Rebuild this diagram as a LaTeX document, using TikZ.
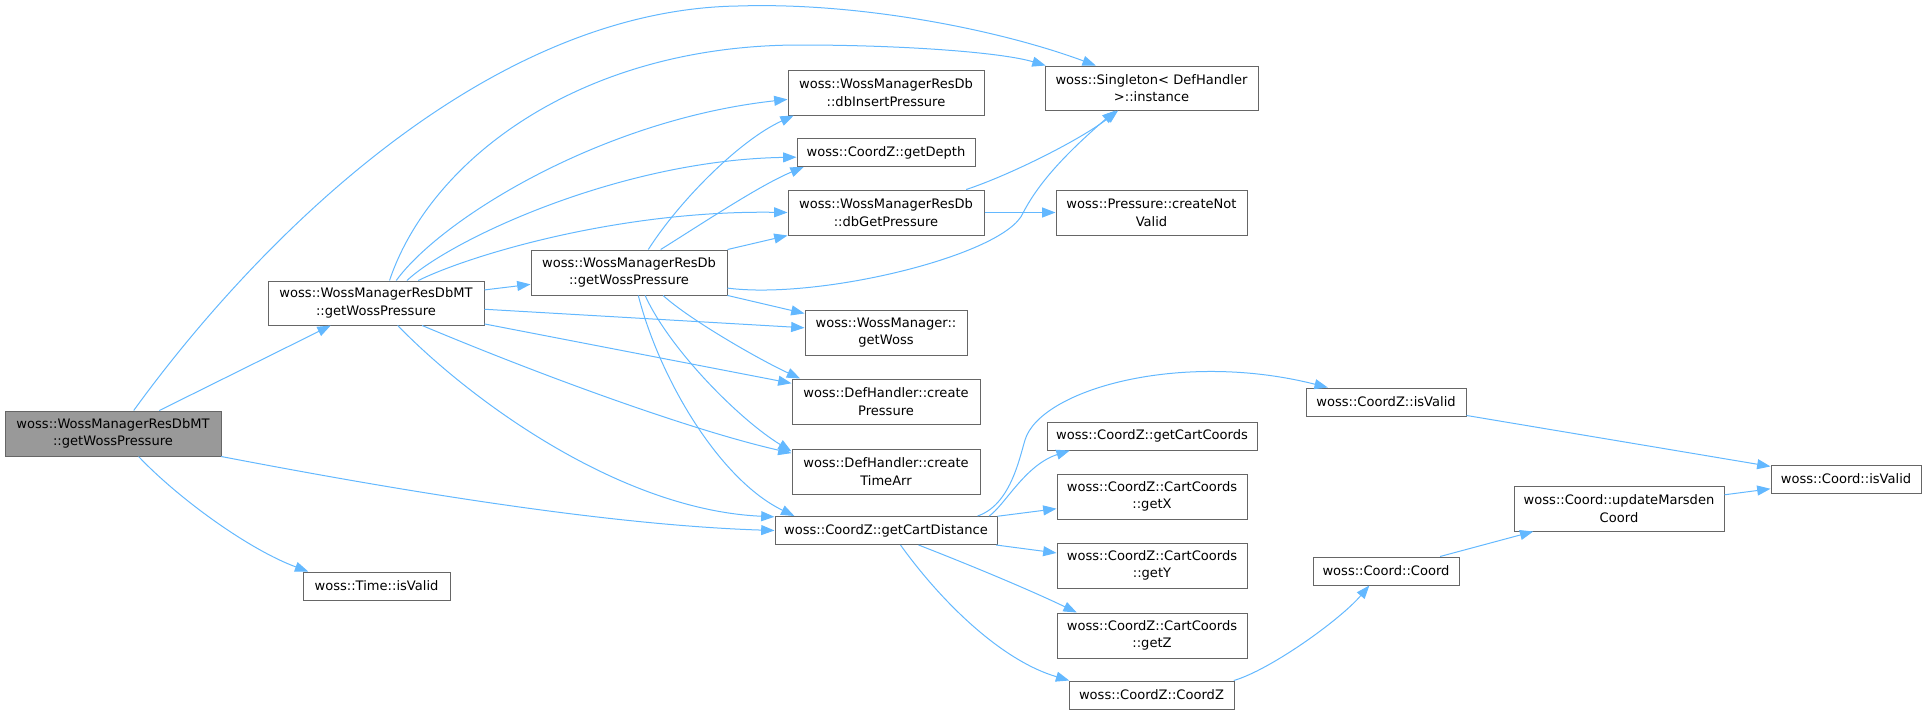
\documentclass[tikz,border=0pt]{standalone}
\usepackage{fontspec}
\newfontfamily\dxfont{DejaVu Sans}
\usetikzlibrary{arrows.meta}
\definecolor{callblue}{HTML}{63B8FF}
\definecolor{boxgray}{HTML}{666666}
\definecolor{rootgray}{HTML}{999999}

\begin{document}
\begin{tikzpicture}[
      x=0.75pt, y=-0.75pt,
      fn/.style={draw=boxgray, line width=0.75pt, fill=white, align=center,
                 inner sep=0pt, font=\dxfont\fontsize{9.8pt}{13.3pt}\selectfont},
      sz/.style 2 args={minimum width=#1*0.75pt, minimum height=#2*0.75pt},
      call/.style={-{Triangle[length=10pt, width=7.5pt]}, callblue, line width=0.75pt},
    ]
    \useasboundingbox (0,0) rectangle (1928,714);

    % Rank 0 — the function itself (grey)
    \node[fn, sz={216}{45}, fill=rootgray] (root) at (113,433.5)
      {woss::WossManagerResDbMT\\::getWossPressure};

    % Rank 1
    \node[fn, sz={216}{44}] (mt) at (376,303)
      {woss::WossManagerResDbMT\\::getWossPressure};
    \node[fn, sz={147}{28}] (tvalid) at (376.5,586) {woss::Time::isValid};

    % Rank 2
    \node[fn, sz={196}{45}] (resdb) at (629,272.5)
      {woss::WossManagerResDb\\::getWossPressure};

    % Rank 3
    \node[fn, sz={196}{45}] (dbins) at (886,92.5)
      {woss::WossManagerResDb\\::dbInsertPressure};
    \node[fn, sz={178}{28}] (depth) at (886,152.5) {woss::CoordZ::getDepth};
    \node[fn, sz={196}{45}] (dbget) at (886,212.5)
      {woss::WossManagerResDb\\::dbGetPressure};
    \node[fn, sz={162}{45}] (getwoss) at (886,332.5)
      {woss::WossManager::\\getWoss};
    \node[fn, sz={188}{45}] (crpres) at (886,401.5)
      {woss::DefHandler::create\\Pressure};
    \node[fn, sz={188}{45}] (crtime) at (886,471.5)
      {woss::DefHandler::create\\TimeArr};
    \node[fn, sz={222}{28}] (cdist) at (886,530.5) {woss::CoordZ::getCartDistance};

    % Rank 4
    \node[fn, sz={213}{44}] (singleton) at (1151.5,88)
      {woss::Singleton< DefHandler\\>::instance};
    \node[fn, sz={191}{45}] (notvalid) at (1151.5,212.5)
      {woss::Pressure::createNot\\Valid};
    \node[fn, sz={210}{28}] (ccoords) at (1152,436) {woss::CoordZ::getCartCoords};
    \node[fn, sz={190}{45}] (getx) at (1152,496.5)
      {woss::CoordZ::CartCoords\\::getX};
    \node[fn, sz={190}{45}] (gety) at (1152,565.5)
      {woss::CoordZ::CartCoords\\::getY};
    \node[fn, sz={190}{45}] (getz) at (1152,635.5)
      {woss::CoordZ::CartCoords\\::getZ};
    \node[fn, sz={165}{28}] (coordz) at (1151.5,695) {woss::CoordZ::CoordZ};

    % Rank 5 to 7
    \node[fn, sz={160}{28}] (zvalid) at (1386,402) {woss::CoordZ::isValid};
    \node[fn, sz={146}{28}] (ccoord) at (1386,571) {woss::Coord::Coord};
    \node[fn, sz={210}{45}] (marsden) at (1619,508.5)
      {woss::Coord::updateMarsden\\Coord};
    \node[fn, sz={150}{28}] (cvalid) at (1846,479) {woss::Coord::isValid};

    % Calls from the root
    \draw[call] (root) -- (mt);
    \draw[call] (root.48) .. controls (250,250) and (480,10) .. (738,6)
      .. controls (860,2) and (1000,30) .. (singleton.158);
    \draw[call] (root.-12) .. controls (380,487) and (600,525) .. (cdist.west);
    \draw[call] (root.-42) .. controls (180,500) and (250,550) .. (tvalid.168);

    % Calls from the MT wrapper
    \draw[call] (mt.59) .. controls (430,160) and (580,45) .. (800,45)
      .. controls (900,45) and (1000,52) .. (singleton.168);
    \draw[call] (mt.48) .. controls (440,220) and (600,120) .. (dbins.184);
    \draw[call] (mt.36) .. controls (450,240) and (620,160) .. (depth.183);
    \draw[call] (mt.28) .. controls (470,255) and (620,210) .. (dbget.west);
    \draw[call] (mt) -- (resdb);
    \draw[call] (mt) -- (getwoss);
    \draw[call] (mt) -- (crpres);
    \draw[call] (mt.-26) .. controls (540,375) and (690,430) .. (crtime.169);
    \draw[call] (mt.-46) .. controls (470,400) and (620,510) .. (cdist.173);

    % Calls from ResDb
    \draw[call] (resdb.50) .. controls (680,200) and (740,140) .. (dbins.194);
    \draw[call] (resdb.36) .. controls (700,225) and (760,185) .. (depth.190);
    \draw[call] (resdb) -- (dbget);
    \draw[call] (resdb.-9) .. controls (820,300) and (1005,255) .. (1023,213)
      .. controls (1040,180) and (1070,150) .. (singleton.212);
    \draw[call] (resdb) -- (getwoss);
    \draw[call] (resdb.-34) .. controls (690,320) and (760,360) .. (crpres.165);
    \draw[call] (resdb.-55) .. controls (670,350) and (740,420) .. (crtime.168);
    \draw[call] (resdb.-68) .. controls (660,380) and (720,480) .. (cdist.171);

    % dbGetPressure
    \draw[call] (dbget.16) .. controls (1010,175) and (1080,140) .. (singleton.214);
    \draw[call] (dbget) -- (notvalid);

    % getCartDistance
    \draw[call] (cdist.9) .. controls (1010,505) and (1019,460) .. (1025,440)
      .. controls (1040,390) and (1180,350) .. (zvalid.166);
    \draw[call] (cdist.8) .. controls (1005,505) and (1025,465) .. (ccoords.190);
    \draw[call] (cdist) -- (getx);
    \draw[call] (cdist) -- (gety);
    \draw[call] (cdist.-24) .. controls (970,565) and (1030,590) .. (getz.163);
    \draw[call] (cdist.-45) .. controls (940,600) and (1000,660) .. (coordz.170);

    % Coord chain
    \draw[call] (coordz.10) .. controls (1270,670) and (1340,620) .. (ccoord.221);
    \draw[call] (ccoord) -- (marsden);
    \draw[call] (marsden) -- (cvalid);
    \draw[call] (zvalid) -- (cvalid);
  \end{tikzpicture}
\end{document}
